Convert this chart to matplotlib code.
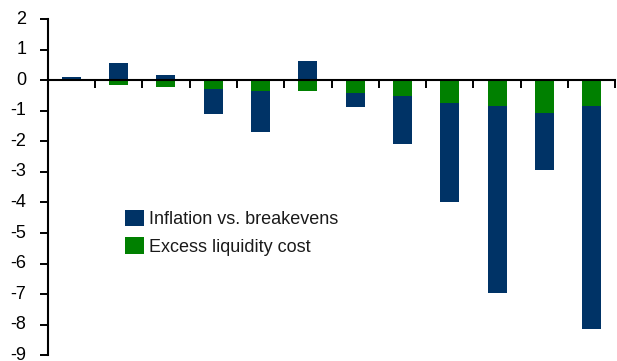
import matplotlib.pyplot as plt
import numpy as np

plt.rcParams['font.family'] = ['Liberation Sans', 'DejaVu Sans']

# one bar per period, no category labels shown
periods = np.arange(12)
inflation = [0.11, 0.57, 0.17, -0.84, -1.36, 0.63, -0.45, -1.57, -3.27, -6.14, -1.89, -7.32]
liquidity = [0.0, -0.14, -0.22, -0.28, -0.35, -0.34, -0.41, -0.53, -0.73, -0.83, -1.06, -0.83]
yticks = list(range(-9, 3))

blue = '#003366'
green = '#008000'

inf = np.array(inflation)
liq = np.array(liquidity)
# negative inflation bars hang below the liquidity piece
inf_bottom = np.where(inf < 0, liq, 0)

fig = plt.figure(figsize=(6.17, 3.61), dpi=100)
ax = fig.add_axes([0.0773, 0.016, 0.92, 0.931])

b1 = ax.bar(periods, inf, 0.4, bottom=inf_bottom, color=blue, label='Inflation vs. breakevens')
b2 = ax.bar(periods, liq, 0.4, color=green, label='Excess liquidity cost')

ax.set_xlim(-0.5, 11.5)
ax.set_ylim(-9, 2)
ax.set_yticks(yticks)
ax.set_yticklabels([str(t) for t in yticks], va='center')
ax.set_xticks(np.arange(-0.5, 12, 1))
ax.set_xticklabels([])

for s in ['top', 'right']:
    ax.spines[s].set_visible(False)
ax.spines['bottom'].set_position(('data', 0))
ax.spines['bottom'].set_linewidth(1.5)
ax.spines['left'].set_linewidth(1.5)
ax.tick_params(axis='y', direction='out', length=6, width=1.4, pad=9.5, labelsize=13)
ax.tick_params(axis='x', direction='out', length=5.5, width=1.4)

ax.legend(handles=[b1, b2], loc='upper left', bbox_to_anchor=(0.2026, 0.418),
          bbox_transform=fig.transFigure, frameon=False, fontsize=13,
          handlelength=1.05, handleheight=1.0, handletextpad=0.3,
          labelspacing=0.5, borderpad=0, borderaxespad=0, labelcolor='#1a1a1a')

fig.savefig('out.png', dpi=100)
